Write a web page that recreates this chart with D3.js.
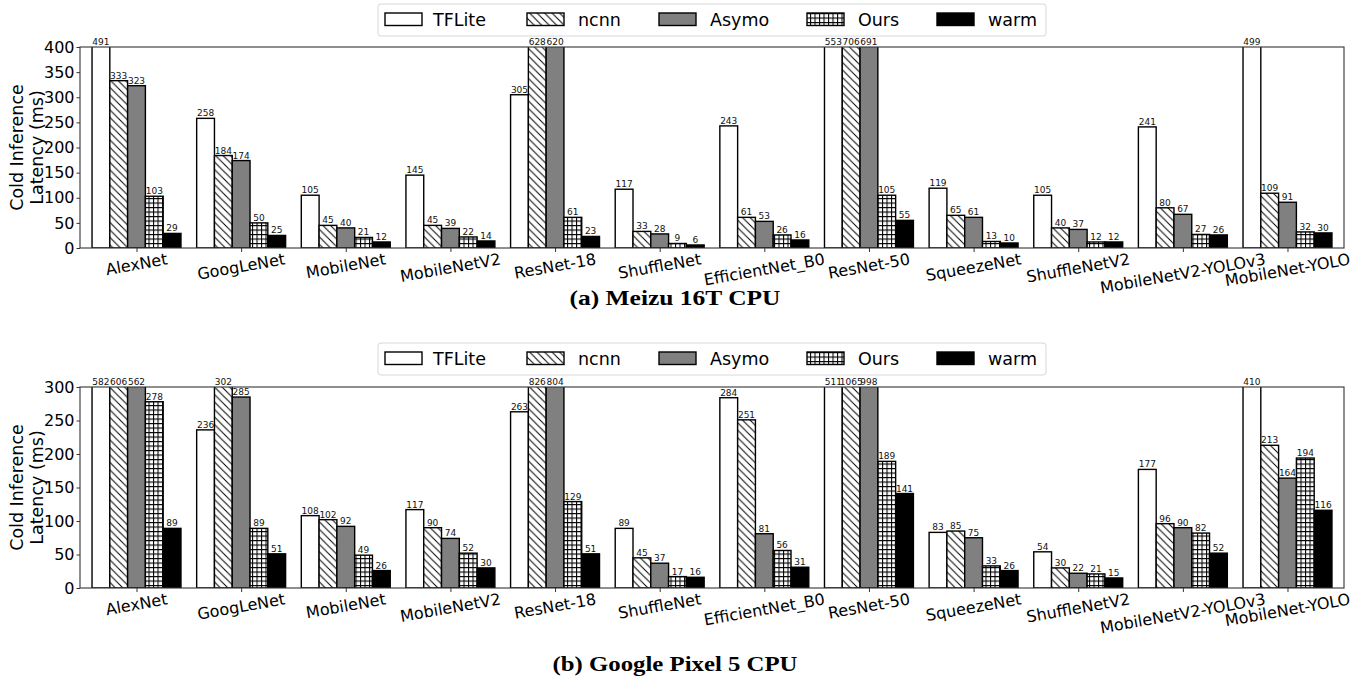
<!DOCTYPE html>
<html>
<head>
<meta charset="utf-8">
<script src="https://cdn.jsdelivr.net/npm/d3@7"></script>
<style>
  body { margin: 0; background: #fff; }
  text { font-family: "DejaVu Sans", sans-serif; }
</style>
</head>
<body>
<svg id="chart"></svg>
<script>
// -- DATA --
const models = ["AlexNet", "GoogLeNet", "MobileNet", "MobileNetV2", "ResNet-18", "ShuffleNet",
  "EfficientNet_B0", "ResNet-50", "SqueezeNet", "ShuffleNetV2", "MobileNetV2-YOLOv3", "MobileNet-YOLO"];
const seriesNames = ["TFLite", "ncnn", "Asymo", "Ours", "warm"];

// (a) Meizu 16T CPU
const meizuTFLite = [491, 258, 105, 145, 305, 117, 243, 553, 119, 105, 241, 499];
const meizuNcnn   = [333, 184, 45, 45, 628, 33, 61, 706, 65, 40, 80, 109];
const meizuAsymo  = [323, 174, 40, 39, 620, 28, 53, 691, 61, 37, 67, 91];
const meizuOurs   = [103, 50, 21, 22, 61, 9, 26, 105, 13, 12, 27, 32];
const meizuWarm   = [29, 25, 12, 14, 23, 6, 16, 55, 10, 12, 26, 30];
const meizuTicks  = [0, 50, 100, 150, 200, 250, 300, 350, 400];

// (b) Google Pixel 5 CPU
const pixelTFLite = [582, 236, 108, 117, 263, 89, 284, 511, 83, 54, 177, 410];
const pixelNcnn   = [606, 302, 102, 90, 826, 45, 251, 1065, 85, 30, 96, 213];
const pixelAsymo  = [562, 285, 92, 74, 804, 37, 81, 998, 75, 22, 90, 164];
const pixelOurs   = [278, 89, 49, 52, 129, 17, 56, 189, 33, 21, 82, 194];
const pixelWarm   = [89, 51, 26, 30, 51, 16, 31, 141, 26, 15, 52, 116];
const pixelTicks  = [0, 50, 100, 150, 200, 250, 300];

// -- LAYOUT --
const W = 1364, H = 681;
const plotLeft = 80, plotRight = 1344;
const barW = 0.17;
const fills = ["#ffffff", "url(#hatchBack)", "#808080", "url(#hatchGrid)", "#000000"];

const panels = [
  { top: 47, bottom: 248, yMax: 400, ticks: meizuTicks, legendY: 4, captionY: 298,
    caption: "(a) Meizu 16T CPU", captionW: 211,
    series: [meizuTFLite, meizuNcnn, meizuAsymo, meizuOurs, meizuWarm] },
  { top: 387, bottom: 588, yMax: 300, ticks: pixelTicks, legendY: 343, captionY: 664,
    caption: "(b) Google Pixel 5 CPU", captionW: 245,
    series: [pixelTFLite, pixelNcnn, pixelAsymo, pixelOurs, pixelWarm] }
];

const svg = d3.select("#chart").attr("width", W).attr("height", H);

// hatch patterns
const defs = svg.append("defs");
const back = defs.append("pattern").attr("id", "hatchBack")
  .attr("patternUnits", "userSpaceOnUse").attr("width", 7.5).attr("height", 7.5);
back.append("rect").attr("width", 7.5).attr("height", 7.5).attr("fill", "#fff");
back.append("path").attr("d", "M-1,-1 L8.5,8.5 M-1,6.5 L1,8.5 M6.5,-1 L8.5,1")
  .attr("stroke", "#000").attr("stroke-width", 1);
const grid = defs.append("pattern").attr("id", "hatchGrid")
  .attr("patternUnits", "userSpaceOnUse").attr("width", 4.5).attr("height", 4.5);
grid.append("rect").attr("width", 4.5).attr("height", 4.5).attr("fill", "#fff");
grid.append("path").attr("d", "M0,0.5 L4.5,0.5 M0.5,0 L0.5,4.5")
  .attr("stroke", "#000").attr("stroke-width", 1.1);

const x = d3.scaleLinear().domain([-0.54, 11.54]).range([plotLeft, plotRight]);

panels.forEach((p, pi) => {
  const y = d3.scaleLinear().domain([0, p.yMax]).range([p.bottom, p.top]);
  const g = svg.append("g");

  defs.append("clipPath").attr("id", "clip" + pi)
    .append("rect").attr("x", plotLeft).attr("y", p.top)
    .attr("width", plotRight - plotLeft).attr("height", p.bottom - p.top);

  // bars
  const bars = g.append("g").attr("clip-path", `url(#clip${pi})`);
  p.series.forEach((vals, si) => {
    bars.selectAll(null).data(vals).enter().append("rect")
      .attr("x", (d, i) => x(i + (si - 2.5) * barW))
      .attr("y", d => y(Math.min(d, p.yMax * 1.02)))
      .attr("width", x(barW) - x(0))
      .attr("height", d => p.bottom - y(Math.min(d, p.yMax * 1.02)))
      .attr("fill", fills[si])
      .attr("stroke", "#000")
      .attr("stroke-width", 1.4);
  });

  // value labels
  p.series.forEach((vals, si) => {
    g.selectAll(null).data(vals).enter().append("text")
      .attr("x", (d, i) => x(i + (si - 2) * barW))
      .attr("y", d => y(Math.min(d, p.yMax)) - 2)
      .attr("text-anchor", "middle")
      .style("font-size", "9px")
      .attr("fill", "#111")
      .text(d => d);
  });

  // frame
  g.append("rect").attr("x", plotLeft).attr("y", p.top)
    .attr("width", plotRight - plotLeft).attr("height", p.bottom - p.top)
    .attr("fill", "none").attr("stroke", "#333").attr("stroke-width", 1.1);

  // y axis
  const ya = g.append("g").attr("transform", `translate(${plotLeft},0)`)
    .call(d3.axisLeft(y).tickValues(p.ticks).tickSize(3.5).tickPadding(2).tickFormat(d3.format("d")));
  ya.select(".domain").remove();
  ya.selectAll("text").style("font-size", "16px").attr("fill", "#000")
    .style("font-family", "DejaVu Sans");
  ya.selectAll("line").attr("stroke", "#333");

  // x axis ticks
  const xa = g.append("g").attr("transform", `translate(0,${p.bottom})`)
    .call(d3.axisBottom(x).tickValues(d3.range(models.length)).tickSize(4).tickFormat(""));
  xa.select(".domain").remove();
  xa.selectAll("line").attr("stroke", "#333");

  // rotated x labels (bbox top just under the axis)
  const ang = 10 * Math.PI / 180;
  models.forEach((m, i) => {
    const t = g.append("text")
      .attr("text-anchor", "middle")
      .attr("dominant-baseline", "central")
      .style("font-size", "16px")
      .text(m);
    const w = t.node().getComputedTextLength();
    const h = 18;
    const bh = w * Math.sin(ang) + h * Math.cos(ang);
    const cx = x(i), cy = p.bottom + 2 + bh / 2;
    t.attr("x", cx).attr("y", cy).attr("transform", `rotate(-10,${cx},${cy})`);
  });

  // y axis title
  const cyMid = (p.top + p.bottom) / 2;
  const yt = g.append("text").attr("transform", `translate(27,${cyMid}) rotate(-90)`)
    .attr("text-anchor", "middle").style("font-size", "17.5px");
  yt.append("tspan").attr("x", 0).attr("y", -4).text("Cold Inference");
  yt.append("tspan").attr("x", 0).attr("y", 16).text("Latency (ms)");

  // legend
  const lg = g.append("g").attr("transform", `translate(378,${p.legendY})`);
  lg.append("rect").attr("width", 668).attr("height", 32).attr("rx", 3)
    .attr("fill", "#fff").attr("stroke", "#d8d8d8");
  const patchX = [7, 149, 281, 429, 559];
  const textX = [55, 200, 332, 480, 610];
  seriesNames.forEach((s, si) => {
    lg.append("rect").attr("x", patchX[si]).attr("y", 9).attr("width", 37).attr("height", 12.5)
      .attr("fill", fills[si]).attr("stroke", "#000").attr("stroke-width", 1.4);
    lg.append("text").attr("x", textX[si]).attr("y", 21.5)
      .style("font-size", "17.5px").text(s);
  });

  // caption
  g.append("text").attr("x", 675).attr("y", p.captionY + 7)
    .attr("text-anchor", "middle")
    .attr("textLength", p.captionW)
    .attr("lengthAdjust", "spacingAndGlyphs")
    .style("font-family", "Liberation Serif, serif")
    .style("font-weight", "bold")
    .style("font-size", "21px")
    .text(p.caption);
});
</script>
</body>
</html>
